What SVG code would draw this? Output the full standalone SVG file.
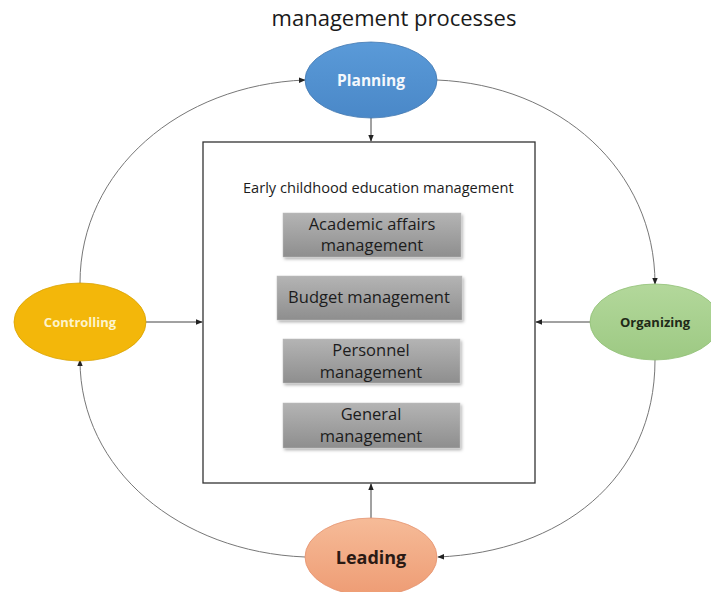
<svg xmlns="http://www.w3.org/2000/svg" width="711" height="592" viewBox="0 0 711 592">
  <defs>
    <style>
      .title { font-family: "Open Sans", "Liberation Sans", sans-serif; font-size: 22px; fill: #1a1a1a; }
      .lbl { font-family: "Open Sans", "Liberation Sans", sans-serif; font-weight: bold; text-anchor: middle; }
      .txt { font-family: "Open Sans", "Liberation Sans", sans-serif; font-size: 16.5px; fill: #1c1c1c; text-anchor: middle; }
      .sub { font-family: "Open Sans", "Liberation Sans", sans-serif; font-size: 14.6px; fill: #1c1c1c; }
      .conn { fill: none; stroke: #777; stroke-width: 1; }
      .straight { fill: none; stroke: #444; stroke-width: 1; }
      .frame { fill: #fff; stroke: #333; stroke-width: 1.3; }
      .item { fill: url(#grey); stroke: #bbb; stroke-width: 0.5; filter: url(#shadow); }
    </style>
    <marker id="arr" viewBox="0 0 10 10" refX="9" refY="5" markerWidth="7" markerHeight="7" orient="auto">
      <path d="M0,1 L10,5 L0,9 z" fill="#222"/>
    </marker>
    <linearGradient id="grey" x1="0" y1="0" x2="0" y2="1">
      <stop offset="0" stop-color="#b4b4b4"/>
      <stop offset="1" stop-color="#8e8e8e"/>
    </linearGradient>
    <linearGradient id="blue" x1="0" y1="0" x2="0" y2="1">
      <stop offset="0" stop-color="#5a9ad8"/>
      <stop offset="1" stop-color="#4a88c8"/>
    </linearGradient>
    <linearGradient id="green" x1="0" y1="0" x2="0" y2="1">
      <stop offset="0" stop-color="#b3d89b"/>
      <stop offset="1" stop-color="#9dc983"/>
    </linearGradient>
    <linearGradient id="salmon" x1="0" y1="0" x2="0" y2="1">
      <stop offset="0" stop-color="#f6bb98"/>
      <stop offset="1" stop-color="#ee9c74"/>
    </linearGradient>
    <filter id="shadow" x="-10%" y="-10%" width="125%" height="140%">
      <feDropShadow dx="1.5" dy="2" stdDeviation="1.5" flood-color="#000" flood-opacity="0.3"/>
    </filter>
  </defs>

  <rect width="711" height="592" fill="#fff"/>

  <text class="title" x="394" y="26" text-anchor="middle">management processes</text>

  <!-- central frame -->
  <g id="ece-management">
    <rect class="frame" x="203" y="142" width="332" height="341"/>
    <text class="sub" x="243" y="193">Early childhood education management</text>
  </g>

  <g id="academic">
    <rect class="item" x="283" y="213" width="178" height="44"/>
    <text class="txt" x="372" y="230">Academic affairs</text>
    <text class="txt" x="372" y="251">management</text>
  </g>
  <g id="budget">
    <rect class="item" x="277" y="276" width="185" height="44"/>
    <text class="txt" x="369" y="303">Budget management</text>
  </g>
  <g id="personnel">
    <rect class="item" x="283" y="339" width="177" height="44"/>
    <text class="txt" x="371" y="356">Personnel</text>
    <text class="txt" x="371" y="378">management</text>
  </g>
  <g id="general">
    <rect class="item" x="283" y="403" width="177" height="45"/>
    <text class="txt" x="371" y="420">General</text>
    <text class="txt" x="371" y="442">management</text>
  </g>

  <!-- connectors -->
  <g id="connectors">
    <line class="straight" x1="371" y1="118" x2="371" y2="141" marker-end="url(#arr)"/>
    <line class="straight" x1="146" y1="322" x2="202" y2="322" marker-end="url(#arr)"/>
    <line class="straight" x1="590" y1="322" x2="536" y2="322" marker-end="url(#arr)"/>
    <line class="straight" x1="371" y1="518" x2="371" y2="484" marker-end="url(#arr)"/>
    <path class="conn" d="M437,80 C560,85 655,170 655,284" marker-end="url(#arr)"/>
    <path class="conn" d="M655,360 C655,480 560,552 438,557" marker-end="url(#arr)"/>
    <path class="conn" d="M305,557 C180,552 80,470 80,360" marker-end="url(#arr)"/>
    <path class="conn" d="M80,283 C80,170 180,85 305,80" marker-end="url(#arr)"/>
  </g>

  <g id="planning">
    <ellipse cx="371" cy="80" rx="66" ry="38" fill="url(#blue)" stroke="#4177b0" stroke-width="0.8"/>
    <text class="lbl" x="371" y="86" font-size="15.5" fill="#f4f8fc">Planning</text>
  </g>
  <g id="controlling">
    <ellipse cx="80" cy="322" rx="66" ry="39" fill="#f3b70a" stroke="#d9a200" stroke-width="0.8"/>
    <text class="lbl" x="80" y="327" font-size="13" fill="#fdf3cc">Controlling</text>
  </g>
  <g id="organizing">
    <ellipse cx="655" cy="322" rx="65" ry="38" fill="url(#green)" stroke="#8fbf74" stroke-width="0.8"/>
    <text class="lbl" x="655" y="327" font-size="13" fill="#1f2a18">Organizing</text>
  </g>
  <g id="leading">
    <ellipse cx="371" cy="557" rx="66" ry="39" fill="url(#salmon)" stroke="#e49370" stroke-width="0.8"/>
    <text class="lbl" x="371" y="564" font-size="18" fill="#2a1a14">Leading</text>
  </g>
</svg>
